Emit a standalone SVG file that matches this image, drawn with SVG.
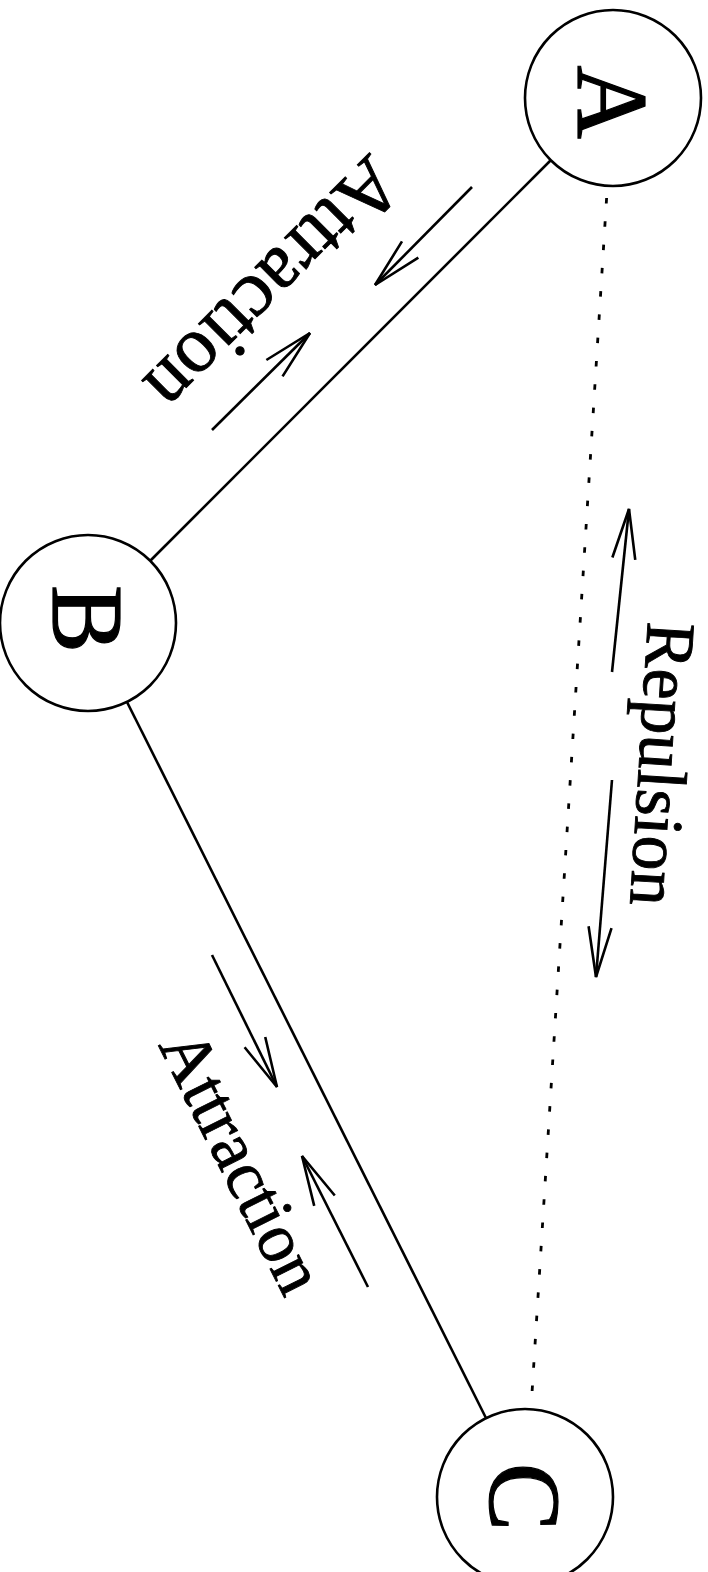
<svg xmlns="http://www.w3.org/2000/svg" width="708" height="1572" viewBox="0 0 708 1572">
<style>
.node{fill:#fff;stroke:#000;stroke-width:2.6}
.nl{font-family:"Liberation Serif","Times New Roman",serif;font-size:102px;text-anchor:middle;fill:#000;stroke:#000;stroke-width:1.2}
.lbl{font-family:"Liberation Serif","Times New Roman",serif;font-size:70px;fill:#000;stroke:#000;stroke-width:0.9}
.edge{stroke:#000;stroke-width:2.6;fill:none}
.dot{stroke:#000;stroke-width:2.8;fill:none;stroke-dasharray:5.5 17.83}
.arr{stroke:#000;stroke-width:2.6;fill:none;marker-end:url(#ah)}
</style>
<defs>
<marker id="ah" markerUnits="userSpaceOnUse" orient="auto" refX="0" refY="0" markerWidth="60" markerHeight="30" overflow="visible">
<path d="M-50,-11.5 L0,0 L-50,11.5" fill="none" stroke="#000" stroke-width="2.6"/>
</marker>
</defs>
<rect width="708" height="1572" fill="#fff"/>
<g id="connectors">
<line class="edge" x1="551" y1="160" x2="150" y2="561"/>
<line class="edge" x1="127" y1="702" x2="486" y2="1418"/>
<line class="dot" x1="606.6" y1="198" x2="531" y2="1409"/>
<line class="arr" x1="472" y1="187" x2="375" y2="285"/>
<line class="arr" x1="212" y1="430" x2="310" y2="333"/>
<line class="arr" x1="212" y1="955" x2="277" y2="1087"/>
<line class="arr" x1="368" y1="1287" x2="302" y2="1156"/>
<line class="arr" x1="612" y1="672" x2="629" y2="509"/>
<line class="arr" x1="612" y1="780" x2="596" y2="977"/>
<text class="lbl" transform="translate(370,152) rotate(135)" style="font-size:80px">Attraction</text>
<text class="lbl" transform="translate(158,1045) rotate(63.43)">Attraction</text>
<text class="lbl" transform="translate(648,621) rotate(93.6)">Repulsion</text>
</g>
<g id="node-A">
<circle class="node" cx="613" cy="98" r="88"/>
<text class="nl" transform="translate(613,102) rotate(90)" y="35">A</text>
</g>
<g id="node-B">
<circle class="node" cx="88" cy="623" r="88"/>
<text class="nl" transform="translate(88,619) rotate(90)" y="35">B</text>
</g>
<g id="node-C">
<circle class="node" cx="525" cy="1497" r="88"/>
<text class="nl" transform="translate(525,1497) rotate(90)" y="35">C</text>
</g>
</svg>
